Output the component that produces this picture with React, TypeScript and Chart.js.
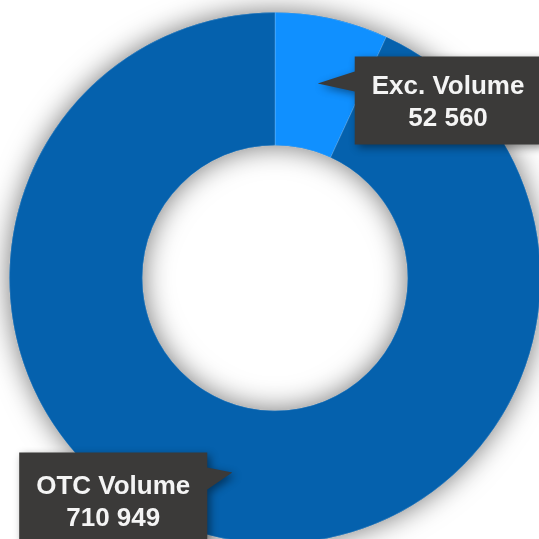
import React, { useEffect, useRef } from "react";
import { Chart, registerables } from "chart.js";

Chart.register(...registerables);

// ---- data ----
const categories: string[] = ["Exc. Volume", "OTC Volume"];
const volumes: number[] = [52560, 710949];
const sliceColors: string[] = ["#1090FF", "#0561AD"];

// ---- callout layout (positions relative to each slice's centroid) ----
const calloutLayout = [
  { side: "right", gap: 37, boxTop: -27, baseTop: -12, baseBottom: 8, firstBaseline: 37 },
  { side: "left", gap: 25, boxTop: -20, baseTop: -5, baseBottom: 17, firstBaseline: 42 },
];

const fmt = (v: number) => String(v).replace(/\B(?=(\d{3})+(?!\d))/g, " ");

const ringShadow = {
  id: "ringShadow",
  beforeDatasetsDraw(chart: any) {
    const meta = chart.getDatasetMeta(0);
    const arc = meta.data[0];
    if (!arc) return;
    const { x, y, innerRadius, outerRadius } = arc.getProps(["x", "y", "innerRadius", "outerRadius"], true);
    const ctx = chart.ctx;
    ctx.save();
    ctx.shadowColor = "rgba(0,0,0,0.55)";
    ctx.shadowBlur = 28;
    ctx.fillStyle = sliceColors[1];
    ctx.beginPath();
    ctx.arc(x, y, outerRadius, 0, Math.PI * 2);
    ctx.arc(x, y, innerRadius, 0, Math.PI * 2, true);
    ctx.closePath();
    ctx.fill();
    ctx.restore();
  },
};

const callouts = {
  id: "callouts",
  afterDatasetsDraw(chart: any) {
    const meta = chart.getDatasetMeta(0);
    const ctx = chart.ctx;
    const data = chart.data.datasets[0].data as number[];
    const labels = chart.data.labels as string[];
    meta.data.forEach((el: any, i: number) => {
      const lay = calloutLayout[i];
      const tip = el.tooltipPosition(true);
      const lines = [labels[i], fmt(data[i])];
      ctx.save();
      ctx.font = 'bold 26px "Liberation Sans", Arial, sans-serif';
      const w = Math.max(...lines.map((l) => ctx.measureText(l).width));
      const boxW = w + 34;
      const boxH = 88;
      const bx = lay.side === "right" ? tip.x + lay.gap : tip.x - lay.gap - boxW;
      const by = tip.y + lay.boxTop;
      ctx.beginPath();
      if (lay.side === "right") {
        ctx.moveTo(bx, by);
        ctx.lineTo(bx + boxW, by);
        ctx.lineTo(bx + boxW, by + boxH);
        ctx.lineTo(bx, by + boxH);
        ctx.lineTo(bx, tip.y + lay.baseBottom);
        ctx.lineTo(tip.x, tip.y);
        ctx.lineTo(bx, tip.y + lay.baseTop);
      } else {
        ctx.moveTo(bx, by);
        ctx.lineTo(bx + boxW, by);
        ctx.lineTo(bx + boxW, tip.y + lay.baseTop);
        ctx.lineTo(tip.x, tip.y);
        ctx.lineTo(bx + boxW, tip.y + lay.baseBottom);
        ctx.lineTo(bx + boxW, by + boxH);
        ctx.lineTo(bx, by + boxH);
      }
      ctx.closePath();
      ctx.shadowColor = "rgba(0,0,0,0.45)";
      ctx.shadowBlur = 8;
      ctx.shadowOffsetX = 3;
      ctx.shadowOffsetY = 3;
      ctx.fillStyle = "#3B3A39";
      ctx.fill();
      ctx.shadowColor = "transparent";
      ctx.shadowBlur = 0;
      ctx.shadowOffsetX = 0;
      ctx.shadowOffsetY = 0;
      ctx.fillStyle = "#F4F4F4";
      ctx.textAlign = "center";
      ctx.textBaseline = "alphabetic";
      const cx = bx + boxW / 2;
      ctx.fillText(lines[0], cx, by + lay.firstBaseline);
      ctx.fillText(lines[1], cx, by + lay.firstBaseline + 32);
      ctx.restore();
    });
  },
};

export default function App() {
  const ref = useRef<HTMLCanvasElement | null>(null);
  useEffect(() => {
    if (!ref.current) return;
    const chart = new Chart(ref.current, {
      type: "doughnut",
      data: {
        labels: categories,
        datasets: [
          {
            data: volumes,
            backgroundColor: sliceColors,
            borderWidth: 1,
            borderColor: "rgba(255,255,255,0.18)",
          },
        ],
      },
      options: {
        responsive: false,
        animation: false,
        events: [],
        cutout: "50%",
        layout: { padding: 34 },
        plugins: {
          legend: { display: false },
          tooltip: { enabled: false },
        },
      },
      plugins: [ringShadow, callouts],
    });
    return () => chart.destroy();
  }, []);
  return (
    <div
      style={{
        position: "absolute",
        left: 0,
        top: 0,
        width: 539,
        height: 539,
        overflow: "hidden",
        background: "#ffffff",
      }}
    >
      <canvas
        ref={ref}
        width={600}
        height={600}
        style={{ position: "absolute", left: -25.5, top: -22.5, width: 600, height: 600 }}
      />
    </div>
  );
}
